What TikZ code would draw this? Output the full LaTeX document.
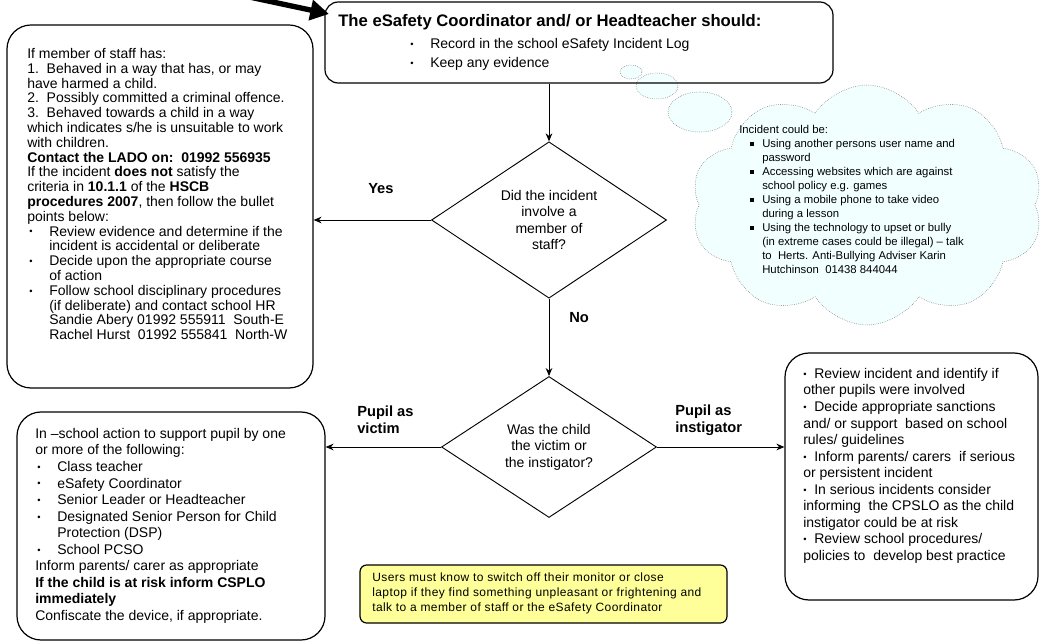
\documentclass[tikz,border=0pt]{standalone}
\usepackage{fontspec}
\setmainfont{Liberation Sans}
\usetikzlibrary{shapes.geometric,shapes.symbols,arrows.meta}
\definecolor{cloudfill}{RGB}{242,255,255}
\definecolor{notefill}{RGB}{255,255,153}
\newcommand{\dotb}{\raisebox{0.8pt}{\fontsize{7}{7}\selectfont\textbullet}}
\newcommand{\itm}[1]{\hspace*{1.5pt}\makebox[15pt][l]{\dotb}#1}
\newcommand{\cnt}[1]{\hspace*{16.5pt}#1}
\newcommand{\sqb}[1]{\hspace*{8.25pt}\makebox[9pt][l]{\rule[1.2pt]{2.8pt}{2.8pt}}#1}
\newcommand{\sqc}[1]{\hspace*{17.25pt}#1}
\begin{document}
\begin{tikzpicture}[x=0.75pt,y=-0.75pt]\normalsize
  \tikzstyle{box}=[draw,line width=0.9pt,rounded corners=18pt]
  \tikzstyle{decision}=[diamond,draw,line width=0.7pt,inner sep=0pt,align=center,font=\fontsize{10.5}{12.4}\selectfont]
  \tikzstyle{bubble}=[draw=black!60,densely dotted,fill=cloudfill]
  \tikzstyle{txt}=[anchor=north west,inner sep=0pt,align=left]
  \tikzstyle{lbl}=[anchor=west,inner sep=0pt,align=left,font=\bfseries\fontsize{11}{12.4}\selectfont]
  \tikzstyle{arr}=[line width=0.7pt,-{Stealth[length=6pt,width=5pt]}]
  \useasboundingbox (0,0) rectangle (1046,641);
  % thought cloud
  \node[bubble,ellipse,minimum width=16.5pt,minimum height=10.5pt] (b1) at (631,72) {};
  \node[bubble,ellipse,minimum width=31.5pt,minimum height=19.5pt] (b2) at (657,86) {};
  \node[bubble,ellipse,minimum width=48pt,minimum height=30pt] (b3) at (700,112) {};
  \node[bubble,cloud,cloud puffs=10,cloud puff arc=115,minimum width=264pt,minimum height=180pt] (cl) at (867,205) {};
  \node[txt,font=\fontsize{8.5}{10.5}\selectfont] (clt) at (739,125) {Incident could be:\\
    \sqb{Using another persons user name and}\\
    \sqc{password}\\
    \sqb{Accessing websites which are against}\\
    \sqc{school policy e.g. games}\\
    \sqb{Using a mobile phone to take video}\\
    \sqc{during a lesson}\\
    \sqb{Using the technology to upset or bully}\\
    \sqc{(in extreme cases could be illegal) -- talk}\\
    \sqc{to\ \ Herts. Anti-Bullying Adviser Karin}\\
    \sqc{Hutchinson\ \ 01438 844044}};
  % boxes
  \node[box,rounded corners=10pt,minimum width=381pt,minimum height=60.75pt] (esc) at (579,42.5) {};
  \node[box,minimum width=229.5pt,minimum height=272.25pt] (lb) at (160,206.5) {};
  \node[box,minimum width=231pt,minimum height=171pt] (vb) at (171,526) {};
  \node[box,minimum width=189.75pt,minimum height=185.25pt] (ib) at (911.5,476.5) {};
  \node[box,rounded corners=5pt,fill=notefill,minimum width=275.25pt,minimum height=43.5pt] (ub) at (543.5,594) {};
  \node[decision,minimum width=176.25pt,minimum height=112.5pt] (d1) at (549,220) {Did the incident\\involve a\\member of\\staff?};
  \node[decision,minimum width=161.25pt,minimum height=105.75pt] (d2) at (549,447) {Was the child\\the victim or\\the instigator?};
  % big pointer
  \coordinate (src) at (240,-5);
  \coordinate (tip) at (329,14);
  \draw[line width=4pt,-{Triangle[length=14pt,width=15pt]}] (src) -- (tip);
  % texts
  \node[anchor=base west,inner sep=0pt,font=\bfseries\fontsize{12.5}{15}\selectfont] (ttl) at (338,27) {The eSafety Coordinator and/ or Headteacher should:};
  \node[txt,font=\fontsize{10.5}{14.5}\selectfont] (tbl) at (408,38) {\itm{Record in the school eSafety Incident Log}\\\itm{Keep any evidence}};
  \node[txt,font=\fontsize{10.5}{11.1}\selectfont] (lbt) at (27,48) {If member of staff has:\\
    1.\ \ Behaved in a way that has, or may\\
    have harmed a child.\\
    2.\ \ Possibly committed a criminal offence.\\
    3.\ \ Behaved towards a child in a way\\
    which indicates s/he is unsuitable to work\\
    with children.\\
    \textbf{Contact the LADO on:\ \ 01992 556935}\\
    If the incident \textbf{does not} satisfy the\\
    criteria in \textbf{10.1.1} of the \textbf{HSCB}\\
    \textbf{procedures 2007}, then follow the bullet\\
    points below:\\
    \itm{Review evidence and determine if the}\\
    \cnt{incident is accidental or deliberate}\\
    \itm{Decide upon the appropriate course}\\
    \cnt{of action}\\
    \itm{Follow school disciplinary procedures}\\
    \cnt{(if deliberate) and contact school HR}\\
    \cnt{Sandie Abery 01992 555911\ \ South-E}\\
    \cnt{Rachel Hurst\ \ 01992 555841\ \ North-W}};
  \node[txt,font=\fontsize{10.5}{12.4}\selectfont] (vbt) at (35,428) {In --school action to support pupil by one\\
    or more of the following:\\
    \itm{Class teacher}\\
    \itm{eSafety Coordinator}\\
    \itm{Senior Leader or Headteacher}\\
    \itm{Designated Senior Person for Child}\\
    \cnt{Protection (DSP)}\\
    \itm{School PCSO}\\
    Inform parents/ carer as appropriate\\
    \textbf{If the child is at risk inform CSPLO}\\
    \textbf{immediately}\\
    Confiscate the device, if appropriate.};
  \node[txt,font=\fontsize{10.5}{12.4}\selectfont] (ibt) at (803,368) {\dotb\ \ Review incident and identify if\\
    other pupils were involved\\
    \dotb\ \ Decide appropriate sanctions\\
    and/ or support\ \ based on school\\
    rules/ guidelines\\
    \dotb\ \ Inform parents/ carers\ \ if serious\\
    or persistent incident\\
    \dotb\ \ In serious incidents consider\\
    informing\ \ the CPSLO as the child\\
    instigator could be at risk\\
    \dotb\ \ Review school procedures/\\
    policies to\ \ develop best practice};
  \node[txt,font=\fontsize{9}{11.25}\selectfont\addfontfeature{LetterSpace=3.5}] (ubt) at (372,573) {Users must know to switch off their monitor or close\\
    laptop if they find something unpleasant or frightening and\\
    talk to a member of staff or the eSafety Coordinator};
  % labels
  \node[lbl] (yes) at (368,189) {Yes};
  \node[lbl] (no) at (569,318) {No};
  \node[lbl] (vic) at (357,420) {Pupil as\\victim};
  \node[lbl] (ins) at (675,420) {Pupil as\\instigator};
  % connectors
  \draw[arr] (d1.north |- esc.south) -- (d1.north);
  \draw[arr] (d1.south) -- (d2.north);
  \draw[arr] (d1.west) -- (d1.west -| lb.east);
  \draw[arr] (d2.west) -- (d2.west -| vb.east);
  \draw[arr] (d2.east) -- (d2.east -| ib.west);
\end{tikzpicture}
\end{document}
